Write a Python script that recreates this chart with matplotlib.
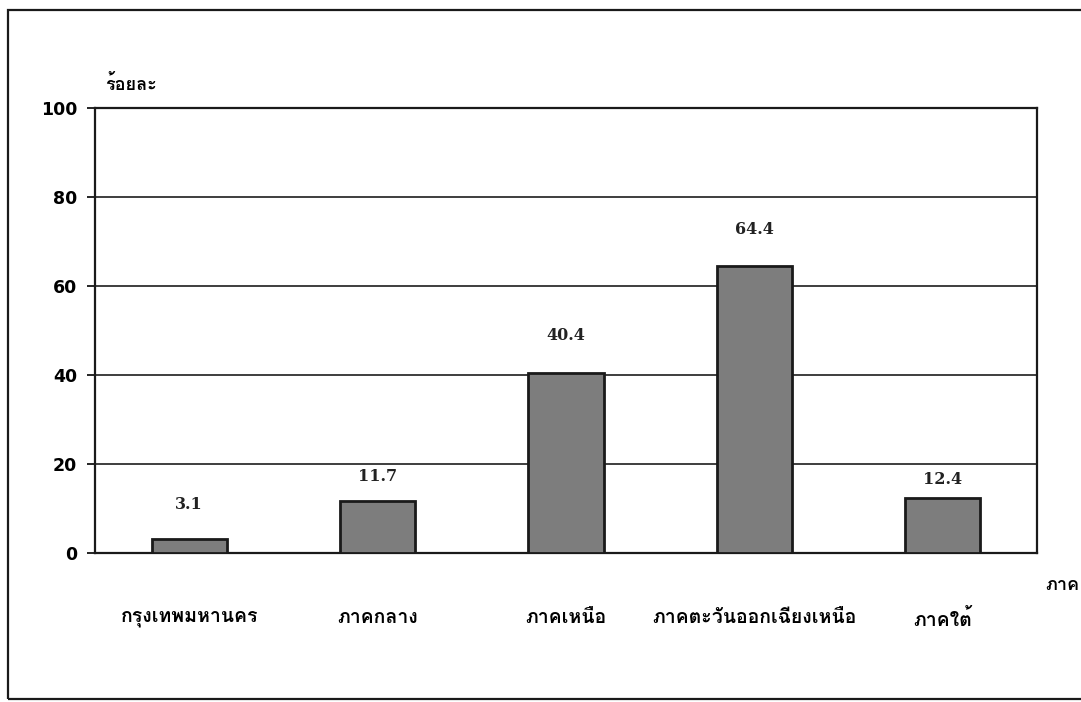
import matplotlib
matplotlib.use("Agg")
import matplotlib.pyplot as plt
from matplotlib import font_manager
from matplotlib.ft2font import FT2Font
from matplotlib.patches import Rectangle

regions = ["กรุงเทพมหานคร", "ภาคกลาง", "ภาคเหนือ", "ภาคตะวันออกเฉียงเหนือ", "ภาคใต้"]
percent = [3.1, 11.7, 40.4, 64.4, 12.4]
yticks = [0, 20, 40, 60, 80, 100]

# how far each value label sits above its bar (pixels), as in the scan
label_gap = [35, 24, 38, 37, 18]


# find an installed font that has Thai glyphs
def find_thai_font():
    for f in font_manager.fontManager.ttflist:
        try:
            if 0x0E01 in FT2Font(f.fname).get_charmap():
                return f.name
        except Exception:
            pass
    return "DejaVu Sans"


thai = find_thai_font()
plt.rcParams['font.family'] = [thai, 'DejaVu Sans']

fig = plt.figure(figsize=(10.81, 7.02), dpi=100)
ax = fig.add_axes([0.0879, 0.2123, 0.8714, 0.6339])

x = list(range(len(regions)))
ax.bar(x, percent, width=0.40, color="#7d7d7d", edgecolor="#1a1a1a", linewidth=2, zorder=3)

for xi, v, gap in zip(x, percent, label_gap):
    ax.annotate("{:.1f}".format(v), (xi, v), textcoords="offset points",
                xytext=(0, gap * 0.72), ha="center", va="center",
                fontsize=11.5, family="DejaVu Serif", fontweight="bold", color="#222222")

ax.set_xlim(-0.5, len(regions) - 0.5)
ax.set_ylim(0, 100)
ax.set_yticks(yticks)
ax.set_yticklabels([str(t) for t in yticks], fontsize=12.5, fontweight="bold",
                   family="DejaVu Sans")
ax.yaxis.grid(True, color="#1e1e1e", linewidth=1.2, zorder=0)
ax.set_axisbelow(True)
ax.tick_params(axis="y", direction="out", length=6, width=1.2, pad=7)
ax.set_xticks(x)
ax.set_xticklabels(regions, fontsize=14, fontweight="bold")
ax.tick_params(axis="x", length=0, pad=40)
for s in ax.spines.values():
    s.set_linewidth(1.6)
    s.set_color("#1a1a1a")

fig.text(131 / 1081, 1 - 85 / 702, "ร้อยละ", ha="center", va="center",
         fontsize=13, fontweight="bold")
fig.text(1062 / 1081, 1 - 585 / 702, "ภาค", ha="center", va="center",
         fontsize=13, fontweight="bold")

# outer frame of the scanned page
fig.patches.append(Rectangle((8 / 1081, 1 - 699 / 702), 1.1, (699 - 10) / 702,
                             transform=fig.transFigure, fill=False,
                             edgecolor="#1a1a1a", linewidth=1.6))

fig.savefig("out.png", dpi=100)
